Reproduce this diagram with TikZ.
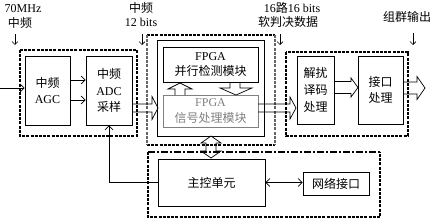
\documentclass[tikz,border=0pt]{standalone}
\usepackage{fontspec}
\setmainfont{Liberation Serif}
\newfontfamily\cjk{Noto Sans CJK SC}
\usetikzlibrary{arrows.meta,calc}
\newcommand{\myharrow}[6]{% x1, x2, yc, shaft half, head half, head length
  \draw[hol] (#1,#3-#4) -- (#2-#6,#3-#4) -- (#2-#6,#3-#5) -- (#2,#3)
     -- (#2-#6,#3+#5) -- (#2-#6,#3+#4) -- (#1,#3+#4);}
\begin{document}
\begin{tikzpicture}[x=1pt,y=-1pt, font=\fontsize{12}{16.5}\selectfont,
  box/.style={draw, line width=0.8pt, inner sep=0pt, align=center},
  grp/.style={line width=1.8pt, dash pattern=on 3pt off 1.2pt},
  conn/.style={line width=0.7pt, -{Straight Barb[length=4pt,width=8pt]}},
  down/.style={line width=0.6pt, -{Straight Barb[length=3pt,width=6pt]}},
  hol/.style={line width=0.7pt},
  lbl/.style={inner sep=0pt, align=center}]
\useasboundingbox (0,0) rectangle (435,219);

% group (dashed) boxes
\draw[grp] (20,50) rectangle (137,136);
\draw[grp] (147,35) -- (275,35);
\draw[grp] (147,145) -- (275,145);
\draw[grp, draw=black!60] (147,35) -- (147,145);
\draw[grp, draw=black!60] (275,35) -- (275,145);
\draw[grp] (286,52) rectangle (408,136);
\draw[grp] (148,152) -- (148,217) -- (380,217) -- (380,152);
\draw[line width=1.8pt, dash pattern=on 7pt off 2pt on 2pt off 2pt] (148,152) -- (380,152);

% inner frame of FPGA group
\draw[line width=0.8pt] (157,40) rectangle (264,136);

% top labels
\node[lbl] (l1a) at (23,9) {70MHz};
\node[lbl] (l1b) at (20,23) {\cjk 中频};
\node[lbl] (l2a) at (141,8) {\cjk 中频};
\node[lbl] (l2b) at (141,22) {12 bits};
\node[lbl] (l3a) at (292,8) {16{\cjk 路}16 bits};
\node[lbl] (l3b) at (288,22) {\cjk 软判决数据};
\node[lbl] (l4) at (407,17) {\cjk 组群输出};
\coordinate (d1a) at (15,34); \coordinate (d1b) at (15,45);
\coordinate (d2a) at (142,34); \coordinate (d2b) at (142,45);
\coordinate (d3a) at (280,34); \coordinate (d3b) at (280,45);
\coordinate (d4a) at (413,33); \coordinate (d4b) at (413,45);
\draw[down] (d1a) -- (d1b);
\draw[down] (d2a) -- (d2b);
\draw[down] (d3a) -- (d3b);
\draw[down] (d4a) -- (d4b);

% boxes
\node[box, minimum width=45pt, minimum height=69pt] (agc) at (47.5,90.5) {\cjk 中频\\AGC};
\node[box, minimum width=46pt, minimum height=69pt] (adc) at (109,90.5) {\cjk 中频\\ADC\\{\cjk 采样}};
\node[box, minimum width=95pt, minimum height=35pt, font=\fontsize{12}{15}\selectfont] (det) at (210.5,64.5) {FPGA\\{\cjk 并行检测模块}};
\node[box, draw=black!50, text=black!50, minimum width=95pt, minimum height=32pt, font=\fontsize{12}{16}\selectfont] (sig) at (210.5,111) {FPGA\\{\cjk 信号处理模块}};
\node[box, minimum width=37pt, minimum height=68pt] (dec) at (315.5,90) {\cjk 解扰\\[0.5pt]\cjk 译码\\[0.5pt]\cjk 处理};
\node[box, minimum width=45pt, minimum height=68pt] (ifc) at (380.5,90) {\cjk 接口\\\cjk 处理};
\node[box, minimum width=107pt, minimum height=47pt] (main) at (211.5,182.5) {\cjk 主控单元};
\node[box, minimum width=66pt, minimum height=23pt] (net) at (336,183.5) {\cjk 网络接口};

% thin connectors
\coordinate (in) at (0,88);
\coordinate (y80) at (0,80);
\coordinate (y100) at (0,100);
\draw[conn] (in) -- (in -| agc.west);
\draw[conn] (agc.east |- y80) -- (adc.west |- y80);
\draw[conn] (agc.east |- y100) -- (adc.west |- y100);
\draw[conn] (main.west) -| (adc.south);
\draw[conn, {Straight Barb[length=4pt,width=8pt]}-{Straight Barb[length=4pt,width=8pt]}] (main.east) -- (main.east -| net.west);

% hollow block arrows
\myharrow{132}{158}{108}{4}{11.5}{6}
\myharrow{258}{296}{108}{4}{11}{6}
\myharrow{334}{358}{87.5}{6}{9.5}{7}
\myharrow{403}{425}{88}{6}{11.5}{8}

% up arrow (signal -> detect) and down arrow (detect -> signal)
\draw[hol] (175,95) -- (175,89) -- (168,89) -- (180,83) -- (192,89) -- (185,89) -- (185,95);
\draw[hol] (230,82) -- (230,88) -- (220,88) -- (236,95) -- (252,88) -- (240,88) -- (240,82);

% double hollow arrow between FPGA group and control group
\draw[hol] (211,136) -- (221,143) -- (216,143) -- (216,151) -- (221,151) -- (211,158)
  -- (201,151) -- (206,151) -- (206,143) -- (201,143) -- cycle;
\end{tikzpicture}
\end{document}
